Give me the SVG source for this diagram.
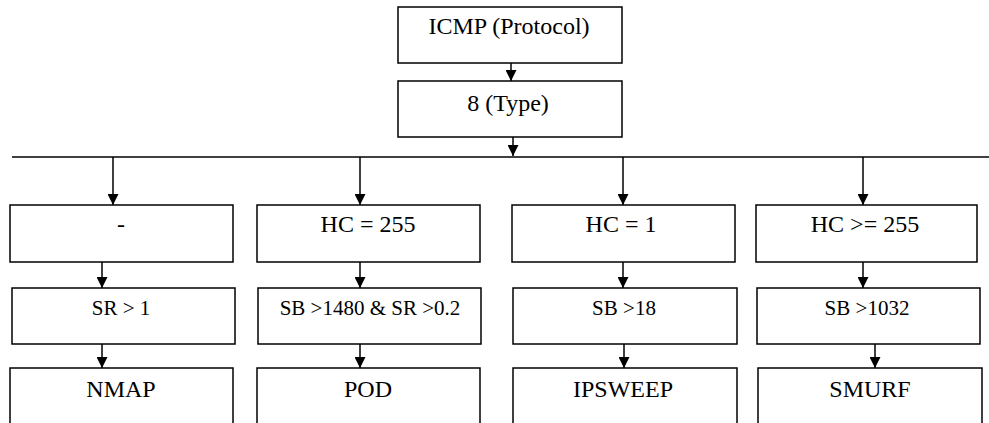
<svg xmlns="http://www.w3.org/2000/svg" width="989" height="423" viewBox="0 0 989 423">
  <style>
    .box { fill: #ffffff; stroke: #000000; stroke-width: 1.5; }
    .line { fill: none; stroke: #000000; stroke-width: 1.5; }
    .t { font-size: 24px; fill: #000000; text-anchor: middle; }
    .s { font-size: 21px; }
  </style>
  <defs>
    <marker id="arrow" markerUnits="userSpaceOnUse" markerWidth="11" markerHeight="11" refX="11" refY="5.5" orient="auto">
      <path d="M0,0 L11,5.5 L0,11 z" fill="#000000"/>
    </marker>
  </defs>
  <rect width="989" height="423" fill="#ffffff"/>

  <g id="connectors">
    <line class="line" x1="12" y1="157" x2="989" y2="157"/>
    <line class="line" x1="511" y1="63" x2="511" y2="81" marker-end="url(#arrow)"/>
    <line class="line" x1="513" y1="137" x2="513" y2="156" marker-end="url(#arrow)"/>
    <line class="line" x1="113" y1="157" x2="113" y2="205" marker-end="url(#arrow)"/>
    <line class="line" x1="360" y1="157" x2="360" y2="205" marker-end="url(#arrow)"/>
    <line class="line" x1="623" y1="157" x2="623" y2="205" marker-end="url(#arrow)"/>
    <line class="line" x1="863" y1="157" x2="863" y2="205" marker-end="url(#arrow)"/>
    <line class="line" x1="102" y1="262" x2="102" y2="288" marker-end="url(#arrow)"/>
    <line class="line" x1="360" y1="262" x2="360" y2="288" marker-end="url(#arrow)"/>
    <line class="line" x1="623" y1="262" x2="623" y2="288" marker-end="url(#arrow)"/>
    <line class="line" x1="863" y1="262" x2="863" y2="288" marker-end="url(#arrow)"/>
    <line class="line" x1="102" y1="344" x2="102" y2="368" marker-end="url(#arrow)"/>
    <line class="line" x1="360" y1="344" x2="360" y2="368" marker-end="url(#arrow)"/>
    <line class="line" x1="624" y1="344" x2="624" y2="368" marker-end="url(#arrow)"/>
    <line class="line" x1="875" y1="344" x2="875" y2="368" marker-end="url(#arrow)"/>
  </g>

  <g font-family="'Liberation Serif', 'DejaVu Serif', serif">
  <g id="protocol">
    <rect class="box" x="398" y="7" width="224" height="56"/>
    <text class="t" x="509" y="34">ICMP (Protocol)</text>
  </g>
  <g id="type">
    <rect class="box" x="398" y="81" width="224" height="56"/>
    <text class="t" x="508" y="111">8 (Type)</text>
  </g>

  <g id="hc-none">
    <rect class="box" x="10" y="205" width="223" height="57"/>
    <text class="t" x="121" y="232">-</text>
  </g>
  <g id="hc-255">
    <rect class="box" x="257" y="205" width="223" height="57"/>
    <text class="t" x="368" y="232">HC = 255</text>
  </g>
  <g id="hc-1">
    <rect class="box" x="512" y="205" width="223" height="57"/>
    <text class="t" x="621" y="232">HC = 1</text>
  </g>
  <g id="hc-ge-255">
    <rect class="box" x="756" y="205" width="221" height="57"/>
    <text class="t" x="865" y="232">HC &gt;= 255</text>
  </g>

  <g id="sr-1">
    <rect class="box" x="12" y="288" width="223" height="56"/>
    <text class="t s" x="121" y="315">SR &gt; 1</text>
  </g>
  <g id="sb-1480">
    <rect class="box" x="258" y="288" width="223" height="56"/>
    <text class="t s" x="370" y="315">SB &gt;1480 &amp; SR &gt;0.2</text>
  </g>
  <g id="sb-18">
    <rect class="box" x="513" y="288" width="224" height="56"/>
    <text class="t s" x="624" y="315">SB &gt;18</text>
  </g>
  <g id="sb-1032">
    <rect class="box" x="757" y="288" width="223" height="56"/>
    <text class="t s" x="867" y="315">SB &gt;1032</text>
  </g>

  <g id="nmap">
    <rect class="box" x="10" y="368" width="223" height="70"/>
    <text class="t" x="121" y="397">NMAP</text>
  </g>
  <g id="pod">
    <rect class="box" x="257" y="368" width="223" height="70"/>
    <text class="t" x="368" y="397">POD</text>
  </g>
  <g id="ipsweep">
    <rect class="box" x="513" y="368" width="224" height="70"/>
    <text class="t" x="623" y="397">IPSWEEP</text>
  </g>
  <g id="smurf">
    <rect class="box" x="758" y="368" width="224" height="70"/>
    <text class="t" x="870" y="397">SMURF</text>
  </g>
  </g>
</svg>
